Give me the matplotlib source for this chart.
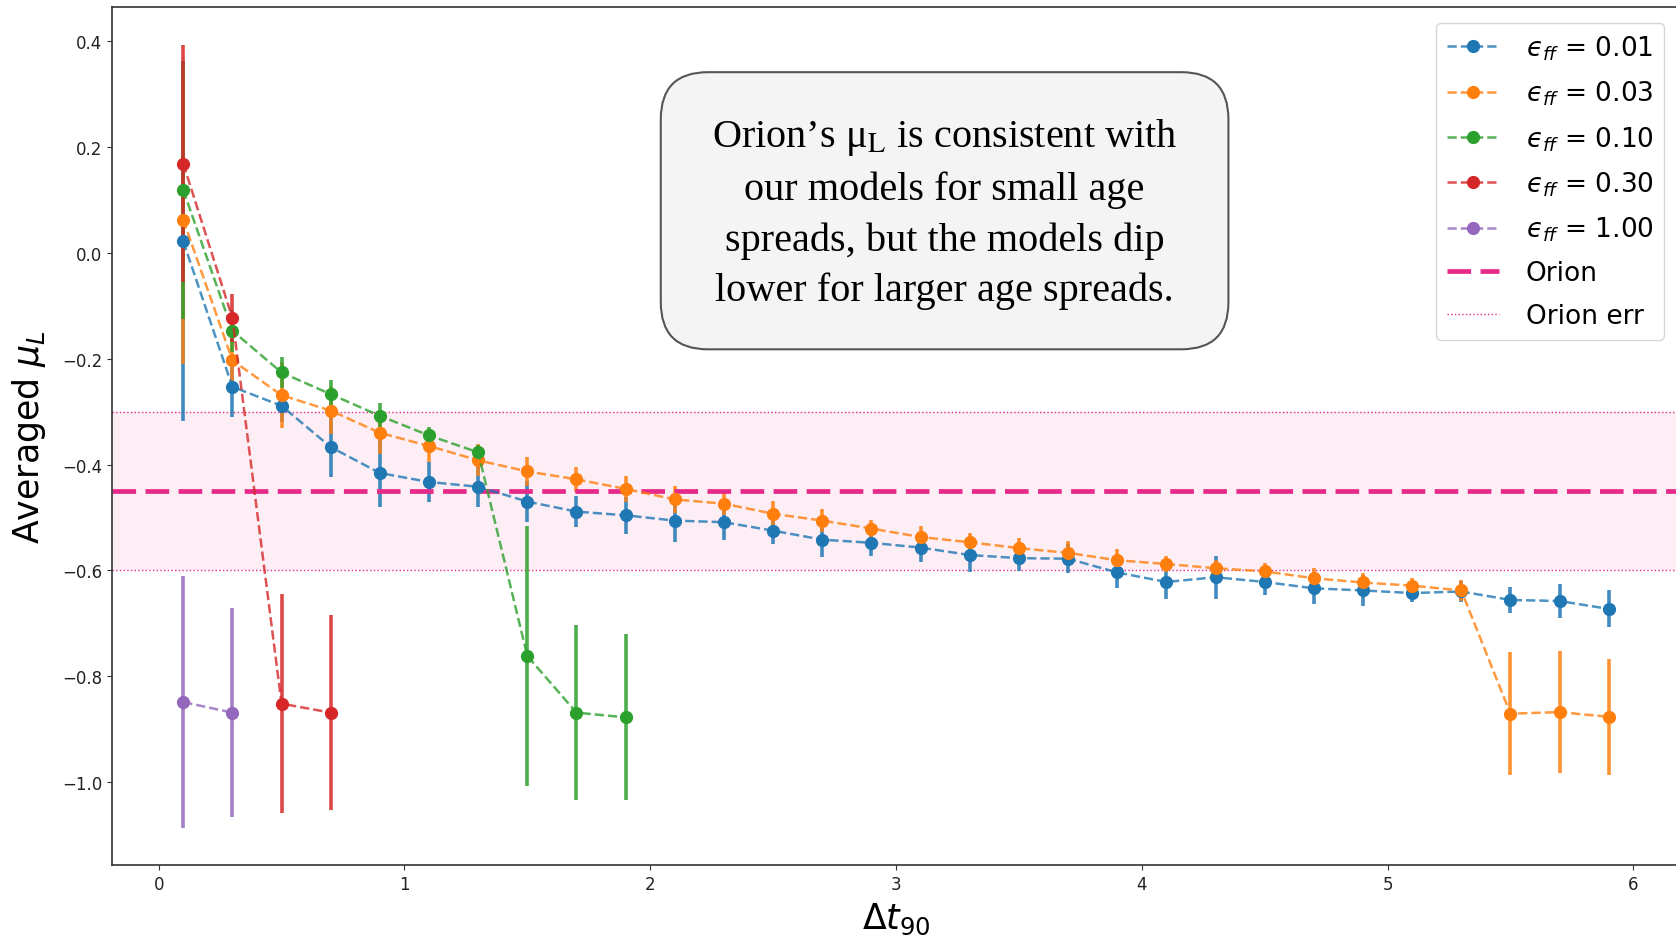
import matplotlib
matplotlib.use("Agg")
import matplotlib.pyplot as plt
from matplotlib.patches import FancyBboxPatch
from matplotlib.colors import to_rgb

# age spread values (Delta t_90)
dt = [0.1, 0.3, 0.5, 0.7, 0.9, 1.1, 1.3, 1.5, 1.7, 1.9,
      2.1, 2.3, 2.5, 2.7, 2.9, 3.1, 3.3, 3.5, 3.7, 3.9,
      4.1, 4.3, 4.5, 4.7, 4.9, 5.1, 5.3, 5.5, 5.7, 5.9]

# eps_ff = 0.01
mu_001 = [0.022, -0.253, -0.289, -0.367, -0.416, -0.433, -0.442, -0.470, -0.489, -0.496,
          -0.506, -0.509, -0.525, -0.542, -0.548, -0.557, -0.571, -0.577, -0.578, -0.604,
          -0.622, -0.613, -0.622, -0.634, -0.638, -0.643, -0.640, -0.656, -0.658, -0.673]
err_001 = [0.34, 0.057, 0.03, 0.057, 0.064, 0.037, 0.039, 0.038, 0.030, 0.035,
           0.040, 0.034, 0.025, 0.032, 0.025, 0.027, 0.032, 0.025, 0.027, 0.030,
           0.033, 0.041, 0.024, 0.030, 0.030, 0.016, 0.020, 0.024, 0.032, 0.035]

# eps_ff = 0.03
mu_003 = [0.063, -0.203, -0.269, -0.298, -0.340, -0.365, -0.392, -0.413, -0.428, -0.446,
          -0.466, -0.474, -0.493, -0.506, -0.521, -0.537, -0.547, -0.558, -0.567, -0.581,
          -0.588, -0.596, -0.602, -0.615, -0.623, -0.629, -0.638, -0.871, -0.868, -0.877]
err_003 = [0.273, 0.04, 0.062, 0.045, 0.04, 0.03, 0.03, 0.027, 0.024, 0.024,
           0.025, 0.022, 0.025, 0.021, 0.017, 0.021, 0.018, 0.019, 0.022, 0.021,
           0.015, 0.015, 0.015, 0.019, 0.018, 0.015, 0.020, 0.116, 0.116, 0.11]

# eps_ff = 0.10
mu_010 = [0.119, -0.147, -0.226, -0.267, -0.308, -0.345, -0.377, -0.762, -0.869, -0.878]
err_010 = [0.244, 0.04, 0.029, 0.027, 0.024, 0.016, 0.013, 0.245, 0.166, 0.157]

# eps_ff = 0.30
mu_030 = [0.169, -0.123, -0.852, -0.869]
err_030 = [0.224, 0.045, 0.207, 0.184]

# eps_ff = 1.00
mu_100 = [-0.849, -0.869]
err_100 = [0.239, 0.198]

orion_mu = -0.45
orion_err = 0.15

series = [
    (mu_001, err_001, 'tab:blue', '$\u03f5_{ff}$ = 0.01'),
    (mu_003, err_003, 'tab:orange', '$\u03f5_{ff}$ = 0.03'),
    (mu_010, err_010, 'tab:green', '$\u03f5_{ff}$ = 0.10'),
    (mu_030, err_030, 'tab:red', '$\u03f5_{ff}$ = 0.30'),
    (mu_100, err_100, 'tab:purple', '$\u03f5_{ff}$ = 1.00'),
]

fig = plt.figure(figsize=(16.76, 9.37), dpi=100)
ax = fig.add_axes([0.0668, 0.0758, 0.9356, 0.9157])

for mu, err, c, lab in series:
    x = dt[:len(mu)]
    ax.errorbar(x, mu, yerr=err, fmt='none', ecolor=c, elinewidth=2.6, alpha=0.85, zorder=2)
    ax.plot(x, mu, '--o', color=(*to_rgb(c), 0.8), mfc=c, mec=c, ms=8.5, lw=1.8,
            label=lab, zorder=3)

pink = '#e7298a'
ax.axhspan(orion_mu - orion_err, orion_mu + orion_err, color=pink, alpha=0.08, lw=0, zorder=1)
ax.axhline(orion_mu, color=pink, ls=(0, (5, 2)), lw=3.4, label='Orion', zorder=2.5)
ax.axhline(orion_mu + orion_err, color=pink, ls=':', lw=1.0, label='Orion err', zorder=1.5)
ax.axhline(orion_mu - orion_err, color=pink, ls=':', lw=1.0, zorder=1.5)

ax.set_xlim(-0.19, 6.19)
ax.set_ylim(-1.157, 0.465)
ax.tick_params(labelsize=12, colors='#333333', labelcolor='#222222')
for s in ax.spines.values():
    s.set_linewidth(1.2)
    s.set_color('#333333')

ax.set_xlabel(r'$\Delta t_{90}$', fontsize=25, labelpad=6)
ax.set_ylabel(r'Averaged $\mu_L$', fontsize=25, labelpad=10)

ax.legend(loc='upper right', fontsize=19, labelspacing=0.64, borderaxespad=0.6,
          handlelength=2.0, handletextpad=1.0)

# annotation box
box = FancyBboxPatch((0.350, 0.601), 0.362, 0.323, transform=ax.transAxes,
                     boxstyle='round,pad=0,rounding_size=0.03', mutation_aspect=1568 / 858,
                     facecolor='#f4f4f4', edgecolor='#555555', lw=1.5, zorder=5)
ax.add_patch(box)
ax.text(0.531, 0.760,
        'Orion\u2019s \u03bc$_\\mathrm{L}$ is consistent with\nour models for small age\n'
        'spreads, but the models dip\nlower for larger age spreads.',
        transform=ax.transAxes, ha='center', va='center', fontsize=29,
        family='Liberation Serif', math_fontfamily='stix', linespacing=1.46, zorder=6)

fig.savefig('out.png', dpi=100)
